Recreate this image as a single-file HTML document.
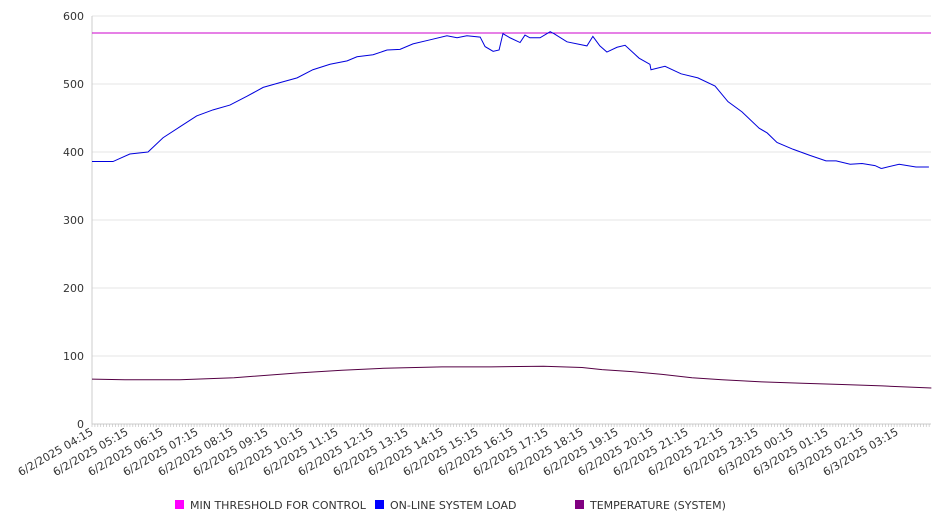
<!DOCTYPE html>
<html><head><meta charset="utf-8"><style>
body{margin:0;background:#fff;font-family:"Liberation Sans","DejaVu Sans",sans-serif}
svg text{font-family:"DejaVu Sans","Liberation Sans",sans-serif}
</style></head><body>
<svg id="chart" width="946" height="526" viewBox="0 0 946 526" xmlns="http://www.w3.org/2000/svg"></svg>
<script>
const yTicks=[0,100,200,300,400,500,600];
const xTickLabels=["6/2/2025 04:15","6/2/2025 05:15","6/2/2025 06:15","6/2/2025 07:15","6/2/2025 08:15","6/2/2025 09:15","6/2/2025 10:15","6/2/2025 11:15","6/2/2025 12:15","6/2/2025 13:15","6/2/2025 14:15","6/2/2025 15:15","6/2/2025 16:15","6/2/2025 17:15","6/2/2025 18:15","6/2/2025 19:15","6/2/2025 20:15","6/2/2025 21:15","6/2/2025 22:15","6/2/2025 23:15","6/3/2025 00:15","6/3/2025 01:15","6/3/2025 02:15","6/3/2025 03:15"];
const thresholdValue=575;
const loadHours=[0,0.6,1.08,1.6,2.03,2.51,2.99,3.46,3.94,4.43,4.89,5.37,5.86,6.31,6.8,7.29,7.57,8.03,8.43,8.8,9.17,9.66,10.14,10.43,10.71,11.09,11.23,11.46,11.63,11.74,11.94,12.23,12.37,12.51,12.8,13.09,13.2,13.57,14.14,14.31,14.51,14.71,15.0,15.23,15.63,15.94,15.97,16.37,16.83,17.31,17.8,18.17,18.57,19.06,19.29,19.57,20.03,20.51,20.97,21.26,21.66,22.0,22.37,22.54,22.57,23.06,23.54,23.91];
const loadValues=[386,386,397,400,421,437,453,462,469,482,495,502,509,521,529,534,540,543,550,551,559,565,571,568,571,569,555,548,550,574,568,561,572,568,568,577,574,562,556,570,556,547,554,557,538,529,521,526,515,509,497,474,459,435,428,414,404,395,387,387,382,383,380,376,376,382,378,378];
const tempHours=[0,0.94,2.51,4.06,5.86,7.14,8.34,10.0,11.4,12.9,14.0,14.57,15.43,16.29,17.14,18.0,19.14,20.29,21.43,22.58,23.98];
const tempValues=[66,65,65,68,75,79,82,84,84,85,83,80,77,73,68,65,62,60,58,56,53];

const NS="http://www.w3.org/2000/svg";
const svg=document.getElementById('chart');
const X0=92,X1=931,Y0=424,Y1=16,HOURS=23.97;
const xs=h=>X0+h/HOURS*(X1-X0);
const ys=v=>Y0-(v/600)*(Y0-Y1);
function mk(tag,attrs,parent){const e=document.createElementNS(NS,tag);for(const k in attrs)e.setAttribute(k,attrs[k]);(parent||svg).appendChild(e);return e;}

yTicks.forEach(t=>{
  if(t>0){const g=mk('line',{x1:X0,x2:X1,y1:ys(t),y2:ys(t),stroke:'#e6e6e6'});
  
  }
  const tx=mk('text',{x:X0-8,y:ys(t)+4,'text-anchor':'end','font-size':11,fill:'#333'});
  tx.textContent=t;
  
  
});
const ax=mk('line',{x1:X0,x2:X0,y1:Y1,y2:Y0,stroke:'#ccc'});


const bx=mk('line',{x1:X0,x2:X1,y1:Y0,y2:Y0,stroke:'#ccc'});


for(let m=0;m<=HOURS*60;m+=5){const l=mk('line',{x1:xs(m/60),x2:xs(m/60),y1:Y0,y2:Y0+3,stroke:'#bbb','stroke-width':0.6});

}
xTickLabels.forEach((lab,i)=>{
  const x=xs(i);
  const t=mk('text',{x:x+2,y:Y0+10,'text-anchor':'end','font-size':11,fill:'#333',transform:`rotate(-30 ${x+2} ${Y0+10})`});
  t.textContent=lab;
  
  
});
const th=mk('line',{x1:X0,x2:X1,y1:ys(thresholdValue),y2:ys(thresholdValue),stroke:'#cc00cc','stroke-width':1});


const lp=mk('polyline',{points:loadHours.map((h,i)=>xs(h)+','+ys(loadValues[i])).join(' '),fill:'none',stroke:'#0000dd','stroke-width':1});


const tp=mk('polyline',{points:tempHours.map((h,i)=>xs(h)+','+ys(tempValues[i])).join(' '),fill:'none',stroke:'#550044','stroke-width':1});



const legend=[["MIN THRESHOLD FOR CONTROL","#ff00ff",175],["ON-LINE SYSTEM LOAD","#0000ff",375],["TEMPERATURE (SYSTEM)","#800080",575]];
legend.forEach(([n,c,x])=>{
  const r=mk('rect',{x:x,y:500,width:9,height:9,fill:c});
  
  
  const t=mk('text',{x:x+15,y:509,'font-size':11,fill:'#333'});
  t.textContent=n;
  
  
});
</script>
</body></html>
